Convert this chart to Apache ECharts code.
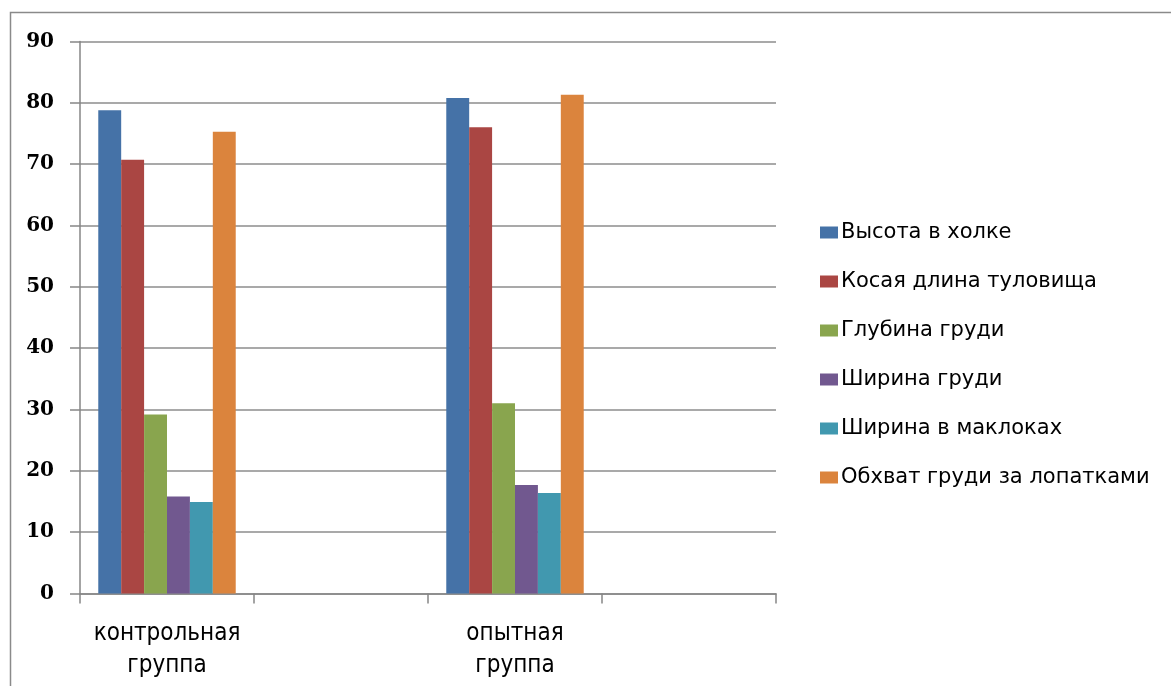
<!DOCTYPE html>
<html>
<head>
<meta charset="utf-8">
<script src="https://cdn.jsdelivr.net/npm/echarts@6/dist/echarts.min.js"></script>
<style>
  html, body { margin: 0; padding: 0; background: #fff; }
  #chart { width: 1171px; height: 686px; }
</style>
</head>
<body>
<div id="chart"></div>
<script>
// Category slots: each group is followed by an empty slot
const categories = ['контрольная\nгруппа', '', 'опытная\nгруппа', ''];

const seriesNames = [
  'Высота в холке',
  'Косая длина туловища',
  'Глубина груди',
  'Ширина груди',
  'Ширина в маклоках',
  'Обхват груди за лопатками'
];

const heightAtWithers   = [78.8, null, 80.8, null];
const obliqueBodyLength = [70.7, null, 76.0, null];
const chestDepth        = [29.2, null, 31.0, null];
const chestWidth        = [15.8, null, 17.7, null];
const hipWidth          = [14.9, null, 16.4, null];
const chestGirth        = [75.3, null, 81.3, null];

const yTicks = { min: 0, max: 90, interval: 10 };

const colors = ['#4572A7', '#AA4643', '#89A54E', '#71588F', '#4198AF', '#DB843D'];

const seriesData = [heightAtWithers, obliqueBodyLength, chestDepth, chestWidth, hipWidth, chestGirth];

const chart = echarts.init(document.getElementById('chart'), null, { renderer: 'canvas' });

chart.setOption({
  animation: false,
  backgroundColor: '#ffffff',
  color: colors,
  graphic: [{
    type: 'rect',
    shape: { x: 10.5, y: 12.5, width: 1300, height: 800 },
    style: { fill: null, stroke: '#8a8a8a', lineWidth: 1.5 },
    silent: true,
    z: -1
  }],
  grid: { left: 80, right: 395, top: 41.5, bottom: 92.5, containLabel: false },
  legend: {
    orient: 'vertical',
    left: 820,
    top: 222,
    padding: 0,
    itemWidth: 18,
    itemHeight: 12,
    itemGap: 28,
    icon: 'rect',
    textStyle: {
      fontFamily: 'DejaVu Sans',
      fontSize: 21,
      lineHeight: 21,
      color: '#000',
      padding: [0, 0, 0, -2]
    },
    data: seriesNames
  },
  xAxis: {
    type: 'category',
    data: categories,
    boundaryGap: true,
    axisLine: { lineStyle: { color: '#868686', width: 1.5 } },
    axisTick: { show: true, length: 10, lineStyle: { color: '#868686', width: 1.5 } },
    axisLabel: {
      interval: 0,
      margin: 24,
      color: '#000',
      fontFamily: 'Liberation Sans Narrow, DejaVu Sans Condensed, Liberation Sans',
      fontSize: 24,
      lineHeight: 32
    },
    splitLine: { show: false }
  },
  yAxis: {
    type: 'value',
    min: yTicks.min,
    max: yTicks.max,
    interval: yTicks.interval,
    axisLine: { show: true, lineStyle: { color: '#868686', width: 1.5 } },
    axisTick: { show: true, length: 10, inside: false, lineStyle: { color: '#868686', width: 1.5 } },
    axisLabel: {
      margin: 26,
      color: '#000',
      fontFamily: 'DejaVu Serif',
      fontWeight: 'bold',
      fontSize: 20
    },
    splitLine: { lineStyle: { color: '#8c8c8c', width: 1.5 } }
  },
  series: seriesNames.map((name, i) => ({
    name: name,
    type: 'bar',
    data: seriesData[i],
    barGap: '0%',
    barCategoryGap: '21%',
    itemStyle: { color: colors[i] }
  }))
});
</script>
</body>
</html>
